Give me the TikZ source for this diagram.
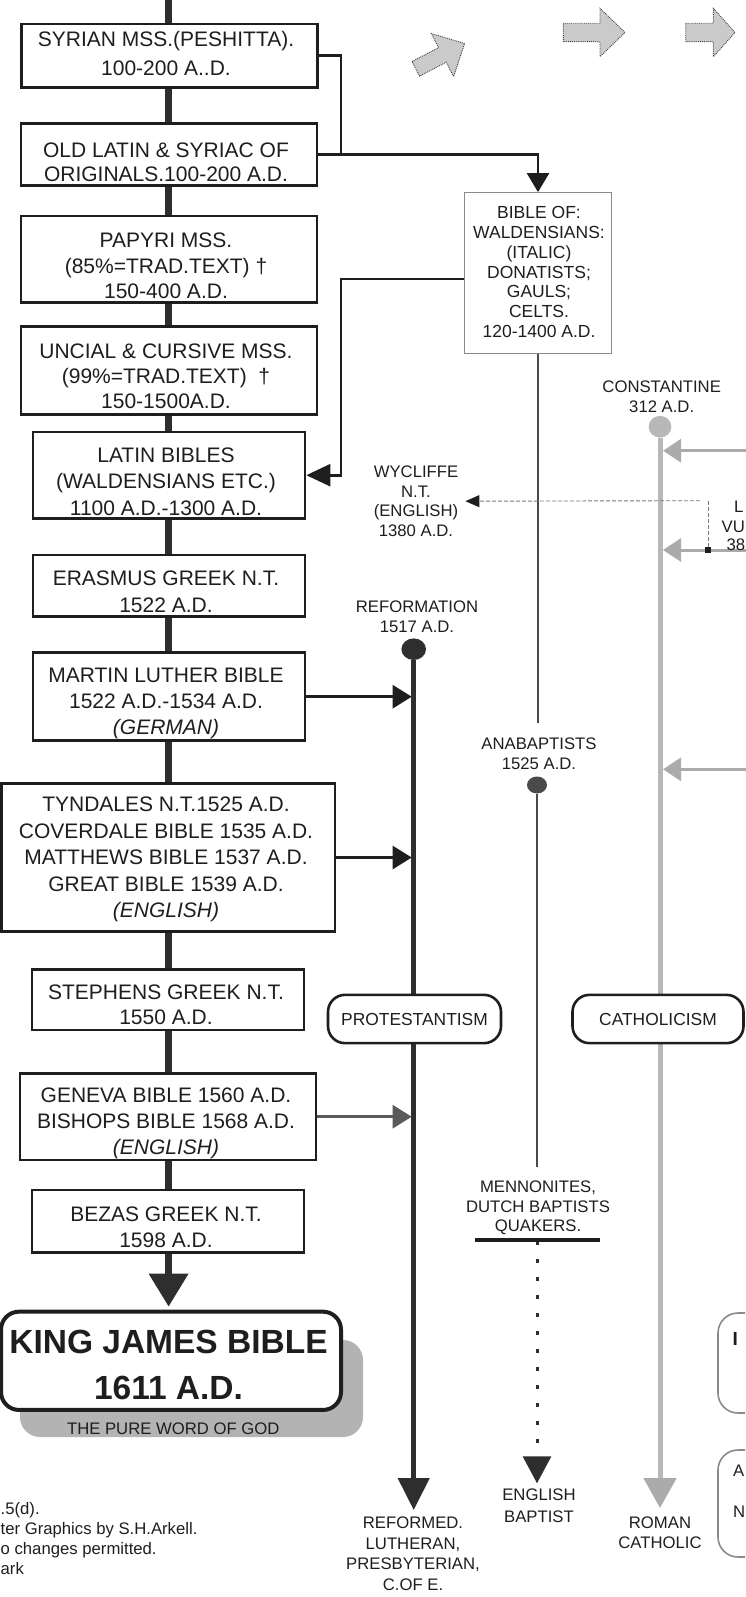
\documentclass[tikz,border=0pt]{standalone}
\usepackage{fontspec}
\setmainfont{Liberation Sans}
\usetikzlibrary{arrows.meta,shapes.geometric}
\pgfdeclarelayer{bg}
\pgfsetlayers{bg,main}
\definecolor{ink}{HTML}{1E1E1E}
\definecolor{spinec}{HTML}{2E2E2E}
\definecolor{midc}{HTML}{4A4A4A}
\definecolor{genc}{HTML}{5A5A5A}
\definecolor{lgray}{HTML}{B8B8B8}
\definecolor{garrc}{HTML}{ABABAB}
\definecolor{shad}{HTML}{B3B3B3}
\definecolor{afill}{HTML}{CACACA}
\definecolor{bibc}{HTML}{8A8A8A}
\definecolor{dotc}{HTML}{7A7A7A}
\begin{document}
\begin{tikzpicture}[x=1pt,y=-1pt,
  box/.style={draw=ink, line width=2.7pt, fill=white, inner sep=0pt},
  btxt/.style={align=center, inner sep=0pt, text=ink},
  lbl/.style={font=\fontsize{16.7}{20}\selectfont, align=center, inner sep=0pt, text=ink},
  spine/.style={draw=spinec, line width=7pt},
  conn/.style={draw=ink, line width=2.6pt},
  bline/.style={draw=midc, line width=2.8pt},
  pline/.style={draw=spinec, line width=4.5pt},
  cline/.style={draw=lgray, line width=5pt},
  garr/.style={draw=garrc, line width=3pt, -{Triangle[length=18pt,width=23pt]}},
  dotl/.style={draw=dotc, line width=0.9pt, dash pattern=on 4pt off 2pt},
  dotsline/.style={draw=spinec, line width=3pt, dash pattern=on 4pt off 14pt},
  topar/.style={fill=afill, draw=darkgray, line width=0.9pt, densely dotted},
  pill/.style={draw=ink, line width=2.6pt, fill=white, rounded corners=17pt, inner sep=0pt,
    font=\fontsize{17.4}{20}\selectfont, text=ink},
  rbox/.style={draw=bibc, line width=1.6pt, rounded corners=20pt, inner sep=0pt, minimum width=60pt},
  dotn/.style={ellipse, inner sep=0pt}
]
\useasboundingbox (0,0) rectangle (745,1597);
\clip (0,0) rectangle (745,1597);

% ---------- top gray arrows ----------
\begin{scope}[shift={(415.8,68.8)}, rotate=27.4]
  \draw[topar] (0,-8.25) -- (30,-8.25) -- (30,-24.25) -- (55,0) -- (30,24.25) -- (30,8.25) -- (0,8.25) -- cycle;
\end{scope}
\draw[topar] (563.3,23.3) -- (600,23.3) -- (600,8.3) -- (625,32.5) -- (600,56.7) -- (600,41.7) -- (563.3,41.7) -- cycle;
\draw[topar] (685.7,23.3) -- (713.3,23.3) -- (713.3,8.3) -- (735,32.5) -- (713.3,56.7) -- (713.3,41.7) -- (685.7,41.7) -- cycle;

% ---------- main column boxes ----------
\node[box, minimum width=296pt, minimum height=63.3pt] (syr) at (169.4,55.7) {};
\node[btxt, font=\fontsize{21}{29.3}\selectfont] (syrT) at (166,53.7) {SYRIAN MSS.(PESHITTA).\\100-200 A..D.};

\node[box, minimum width=296pt, minimum height=62.4pt] (old) at (169,154.5) {};
\node[btxt, font=\fontsize{21}{24}\selectfont] (oldT) at (166,162.1) {OLD LATIN \& SYRIAC OF\\ORIGINALS.100-200 A.D.};

\node[box, minimum width=296pt, minimum height=86.7pt] (pap) at (169,259.4) {};
\node[btxt, font=\fontsize{21}{25.8}\selectfont] (papT) at (166,265.9) {PAPYRI MSS.\\(85\%=TRAD.TEXT) †\\150-400 A.D.};

\node[box, minimum width=296pt, minimum height=87.6pt] (unc) at (169,370.5) {};
\node[btxt, font=\fontsize{21}{25}\selectfont] (uncT) at (166,376.7) {UNCIAL \& CURSIVE MSS.\\(99\%=TRAD.TEXT) \ †\\150-1500A.D.};

\node[box, minimum width=272pt, minimum height=86.3pt] (lat) at (169,475.2) {};
\node[btxt, font=\fontsize{21}{26.7}\selectfont] (latT) at (166,481.7) {LATIN BIBLES\\(WALDENSIANS ETC.)\\1100 A.D.-1300 A.D.};

\node[box, minimum width=272pt, minimum height=61.7pt] (era) at (169,585.9) {};
\node[btxt, font=\fontsize{21}{26.7}\selectfont] (eraT) at (166,591.7) {ERASMUS GREEK N.T.\\1522 A.D.};

\node[box, minimum width=272pt, minimum height=88pt] (mar) at (169,696.7) {};
\node[btxt, font=\fontsize{21}{26}\selectfont] (marT) at (166,703.4) {MARTIN LUTHER BIBLE\\1522 A.D.-1534 A.D.\\\textit{(GERMAN)}};

\node[box, minimum width=333.5pt, minimum height=148.4pt] (tyn) at (168.3,857.5) {};
\node[btxt, font=\fontsize{21}{26.5}\selectfont] (tynT) at (166,859.7) {TYNDALES N.T.1525 A.D.\\COVERDALE BIBLE 1535 A.D.\\MATTHEWS BIBLE 1537 A.D.\\GREAT BIBLE 1539 A.D.\\\textit{(ENGLISH)}};

\node[box, minimum width=272pt, minimum height=60.7pt] (ste) at (168,999.7) {};
\node[btxt, font=\fontsize{21}{25.4}\selectfont] (steT) at (166,1005) {STEPHENS GREEK N.T.\\1550 A.D.};

\node[box, minimum width=296pt, minimum height=86.7pt] (gen) at (168,1116.7) {};
\node[btxt, font=\fontsize{21}{25.9}\selectfont] (genT) at (166,1123.2) {GENEVA BIBLE 1560 A.D.\\BISHOPS BIBLE 1568 A.D.\\\textit{(ENGLISH)}};

\node[box, minimum width=272pt, minimum height=62.3pt] (bez) at (168,1221.2) {};
\node[btxt, font=\fontsize{21}{26}\selectfont] (bezT) at (166,1227) {BEZAS GREEK N.T.\\1598 A.D.};

% ---------- King James ----------
\node[draw=ink, line width=4pt, rounded corners=18pt, fill=white, minimum width=340pt, minimum height=98.3pt, inner sep=0pt] (kjb) at (171,1360.8) {};
\node[btxt, font=\bfseries\fontsize{33.5}{46.6}\selectfont] (kjbT) at (168.5,1365) {KING JAMES BIBLE\\1611 A.D.};
\node[lbl] (pure) at (173.3,1428.3) {THE PURE WORD OF GOD};

% ---------- Bible of Waldensians ----------
\node[draw=bibc, line width=1.2pt, fill=white, minimum width=146.8pt, minimum height=160.6pt, inner sep=0pt] (bib) at (538,273) {};
\node[btxt, font=\fontsize{17.5}{19.8}\selectfont] (bibT) at (539,272) {BIBLE OF:\\WALDENSIANS:\\(ITALIC)\\DONATISTS;\\GAULS;\\CELTS.\\120-1400 A.D.};

% ---------- labels ----------
\node[lbl] (const) at (661.7,397) {CONSTANTINE\\312 A.D.};
\node[lbl] (refm) at (417,617) {REFORMATION\\1517 A.D.};
\node[lbl, font=\fontsize{16.7}{19.7}\selectfont] (wyc) at (416,501.2) {WYCLIFFE\\N.T.\\(ENGLISH)\\1380 A.D.};
\node[lbl] (anab) at (539,753.3) {ANABAPTISTS\\1525 A.D.};
\node[lbl, font=\fontsize{16.7}{19.5}\selectfont] (menn) at (538,1207.8) {MENNONITES,\\DUTCH BAPTISTS\\QUAKERS.};
\node[lbl, font=\fontsize{16.7}{21.7}\selectfont] (engb) at (539,1505.8) {ENGLISH\\BAPTIST};
\node[lbl, font=\fontsize{16.7}{20.5}\selectfont] (refd) at (413,1553.5) {REFORMED.\\LUTHERAN,\\PRESBYTERIAN,\\C.OF E.};
\node[lbl] (romc) at (660,1532.5) {ROMAN\\CATHOLIC};
\node[lbl, align=left, anchor=west] (foot) at (0.5,1539) {.5(d).\\ter Graphics by S.H.Arkell.\\o changes permitted.\\ark};

% partial texts at right edge
\node[lbl, anchor=west] (vl1) at (734,506.7) {L};
\node[lbl, anchor=west] (vl2) at (721.5,526.7) {VU};
\node[lbl, anchor=west] (vl3) at (726.5,545) {38};

% ---------- pills ----------
\node[pill, minimum width=173pt, minimum height=48.3pt] (prot) at (414.5,1019) {PROTESTANTISM};
\node[pill, minimum width=171pt, minimum height=48.3pt] (cath) at (658,1019) {CATHOLICISM};

% ---------- right clipped boxes ----------
\node[rbox, minimum height=100pt] (rbA) at (748,1363) {};
\node[rbox, minimum height=107pt] (rbB) at (748,1503.5) {};
\node[btxt, font=\bfseries\fontsize{19}{22}\selectfont, anchor=west] (rbAt) at (732.5,1339) {I};
\node[lbl, anchor=west] (rbBa) at (733,1471) {A};
\node[lbl, anchor=west] (rbBn) at (733,1511.5) {N};

% ---------- dots ----------
\node[dotn, fill=spinec, minimum width=24.6pt, minimum height=21.6pt] (rdot) at (413.7,649.2) {};
\node[dotn, fill=midc, minimum width=20pt, minimum height=17pt] (adot) at (537,785) {};
\node[dotn, fill=lgray, minimum width=22.7pt, minimum height=21.7pt] (cdot) at (660,426.7) {};
\node[fill=ink, minimum size=5.5pt, inner sep=0pt] (sq) at (708,550) {};

% ---------- coordinates ----------
\coordinate (top) at (168.6,0);
\coordinate (j1) at (341,55.7);
\coordinate (bibend) at (538,723.3);
\coordinate (aend) at (537,1166.7);
\coordinate (ul1) at (475,1240);
\coordinate (ul2) at (600,1240);
\coordinate (ulm) at (537,1241);
\coordinate (pend) at (413.7,1510);
\coordinate (ebend) at (537,1483.3);
\coordinate (cend) at (660,1508);
\coordinate (wyr) at (700,500.7);
\coordinate (vd1) at (708,500.7);
\coordinate (ga1) at (746,450.7);
\coordinate (ga2) at (746,550);
\coordinate (ga3) at (746,769.3);
\path (top |- kjb.north) ++(0,-3) coordinate (kjbin);
\path (cdot.center |- ga1) ++(3,0) coordinate (gt1);
\path (cdot.center |- ga2) ++(3,0) coordinate (gt2);
\path (cdot.center |- ga3) ++(3,0) coordinate (gt3);
\path (rdot.center |- mar.east) ++(-2,0) coordinate (pt1);
\path (rdot.center |- tyn.east) ++(-2,0) coordinate (pt2);
\path (rdot.center |- gen.east) ++(-2,0) coordinate (pt3);

% ---------- underline ----------
\draw[draw=ink, line width=3.5pt] (ul1) -- (ul2);

% ---------- background lines ----------
\begin{pgfonlayer}{bg}
  \node[fill=shad, rounded corners=20pt, minimum width=343pt, minimum height=97pt, inner sep=0pt] (kjbsh) at (191.5,1388.5) {};
  \draw[spine, -{Triangle[length=33pt,width=38pt]}] (top) -- (kjbin);
  \draw[conn] (syr.east) -- (j1) -- (j1 |- old.east);
  \draw[conn, -{Triangle[length=19pt,width=22pt]}] (old.east) -| (bib.north);
  \draw[conn, -{Triangle[length=24pt,width=22pt]}] ([yshift=-6pt]bib.west) -| (j1 |- lat.east) -- (lat.east);
  \draw[bline] (bib.south) -- (bibend);
  \draw[bline] (adot) -- (aend);
  \draw[pline, -{Triangle[length=32pt,width=31pt]}] (rdot) -- (pend);
  \draw[cline, -{Triangle[length=30pt,width=32pt,color=garrc]}] (cdot) -- (cend);
  \draw[dotsline, -{Triangle[length=27pt,width=28pt]}] (ulm) -- (ebend);
  \draw[conn, -{Triangle[length=19pt,width=23pt]}] (mar.east) -- (pt1);
  \draw[conn, -{Triangle[length=19pt,width=23pt]}] (tyn.east) -- (pt2);
  \draw[conn, draw=genc, -{Triangle[length=19pt,width=23pt]}] (gen.east) -- (pt3);
  \draw[dotl, -{Triangle[length=14pt,width=12pt,color=ink]}] (wyr) -- ([xshift=7pt]wyc.east);
  \draw[dotl] (vd1) -- (sq);
  \draw[garr] (ga1) -- (gt1);
  \draw[garr] (ga2) -- (gt2);
  \draw[garr] (ga3) -- (gt3);
\end{pgfonlayer}
\end{tikzpicture}
\end{document}
